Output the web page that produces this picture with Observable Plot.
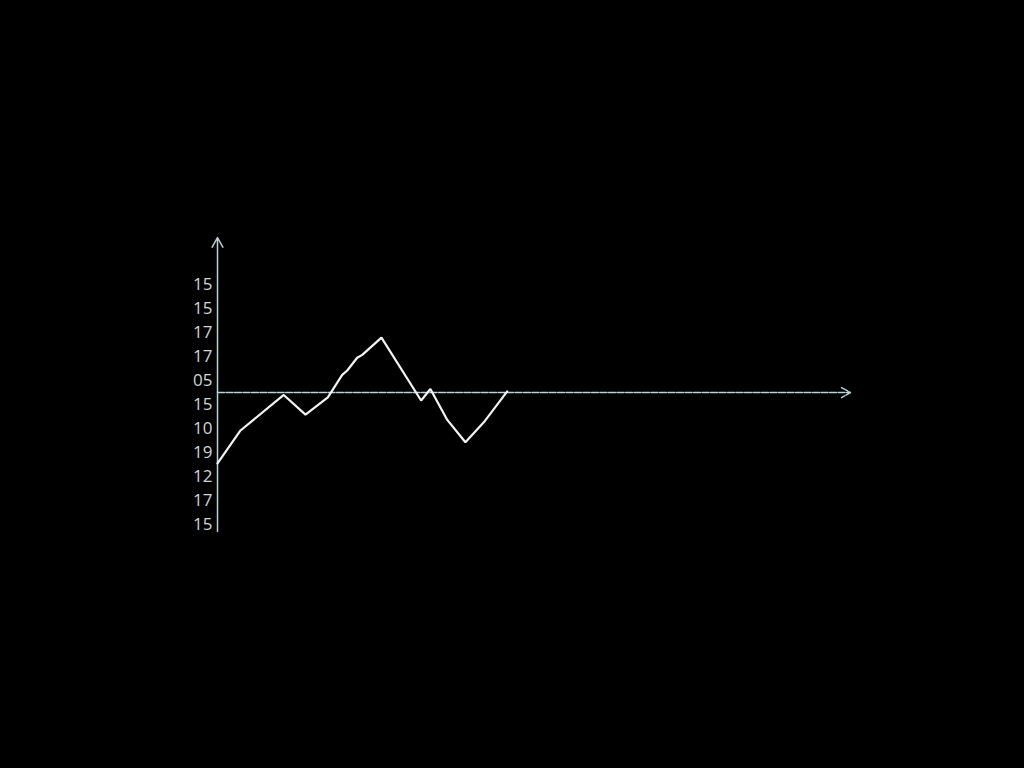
<!DOCTYPE html>
<html>
<head>
<meta charset="utf-8">
<script src="https://cdn.jsdelivr.net/npm/d3@7"></script>
<script src="https://cdn.jsdelivr.net/npm/@observablehq/plot@0.6"></script>
<style>
  html, body { margin: 0; padding: 0; background: #000; }
  #chart { width: 1024px; height: 768px; overflow: hidden; }
</style>
</head>
<body>
<div id="chart"></div>
<script>
// Line series (x position, y value relative to the horizontal axis)
const seriesX = [0, 1.09, 3.14, 4.17, 5.23, 5.91, 6.15, 6.62, 6.86, 7.77, 9.65, 10.09, 10.89, 11.75, 12.62, 13.73];
const seriesY = [-2.95, -1.58, -0.1, -0.92, -0.2, 0.74, 0.92, 1.45, 1.57, 2.29, -0.33, 0.15, -1.14, -2.07, -1.24, 0.05];

// Y tick positions and their (as printed) labels
const tickValues = [4.5, 3.5, 2.5, 1.5, 0.5, -0.5, -1.5, -2.5, -3.5, -4.5, -5.5];
const tickLabels = ["15", "15", "17", "17", "05", "15", "10", "19", "12", "17", "15"];

// Axis extents
const xDomain = [0, 30];
const yDomain = [-5.83, 6.46];
const yAxisBottom = -5.79;

const line = seriesX.map((x, i) => ({x, y: seriesY[i]}));
const ticks = tickValues.map((v, i) => ({v, label: tickLabels[i]}));

const axisColor = "#b9d3d8";

const chart = Plot.plot({
  width: 1024,
  height: 768,
  marginLeft: 217,
  marginRight: 174,
  marginTop: 237,
  marginBottom: 236,
  style: {background: "#000", color: axisColor},
  x: {domain: xDomain, axis: null},
  y: {domain: yDomain, axis: null},
  marks: [
    // horizontal axis with arrow
    Plot.arrow([{x1: xDomain[0], x2: xDomain[1], y1: 0, y2: 0}], {
      x1: "x1", x2: "x2", y1: "y1", y2: "y2",
      stroke: axisColor, strokeWidth: 1.4, headLength: 11, headAngle: 58,
      strokeDasharray: "7,1.5"
    }),
    // vertical axis with arrow
    Plot.arrow([{x1: 0, x2: 0, y1: yAxisBottom, y2: yDomain[1]}], {
      x1: "x1", x2: "x2", y1: "y1", y2: "y2",
      stroke: axisColor, strokeWidth: 1.5, headLength: 11, headAngle: 58
    }),
    // tick labels
    Plot.text(ticks, {
      x: () => 0, y: "v", text: "label",
      dx: -5, textAnchor: "end",
      fill: "#ccd8da", fontSize: 17, fontFamily: "Open Sans"
    }),
    // data line
    Plot.line(line, {x: "x", y: "y", stroke: "#f2f4f4", strokeWidth: 2.2, strokeLinejoin: "miter"})
  ]
});

document.getElementById("chart").appendChild(chart);
</script>
</body>
</html>
